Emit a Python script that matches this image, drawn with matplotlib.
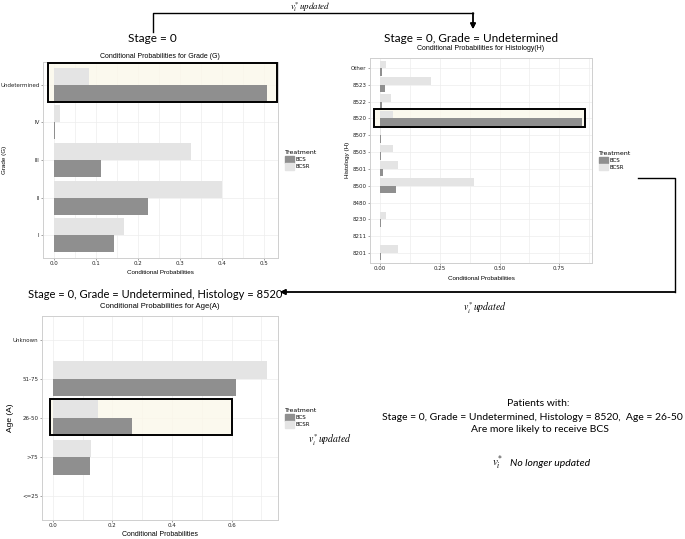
import numpy as np
import matplotlib.pyplot as plt
from matplotlib.lines import Line2D
from matplotlib.patches import Rectangle, Patch
from matplotlib.ticker import MultipleLocator, FormatStrFormatter

W, H = 685, 539

# Conditional probabilities
grade_cats = ["I", "II", "III", "IV", "Undetermined"]
grade_bcs = [0.144, 0.225, 0.113, 0.004, 0.508]
grade_bcsr = [0.167, 0.400, 0.327, 0.014, 0.083]

hist_cats = ["8201", "8211", "8230", "8480", "8500", "8501", "8503", "8507",
             "8520", "8522", "8523", "Other"]
hist_bcs = [0.003, 0.0, 0.003, 0.0, 0.067, 0.011, 0.003, 0.004, 0.845, 0.010, 0.021, 0.010]
hist_bcsr = [0.076, 0.0, 0.024, 0.0, 0.392, 0.076, 0.053, 0.002, 0.056, 0.044, 0.215, 0.024]

age_cats = ["<=25", ">75", "26-50", "51-75", "Unknown"]
age_bcs = [0.0, 0.125, 0.267, 0.614, 0.0]
age_bcsr = [0.0, 0.130, 0.152, 0.720, 0.0]

BCS_C = "#8f8f8f"
BCSR_C = "#e4e4e4"
HL_FILL = "#fbf8ea"
SANS = "Liberation Sans"
HEAD = "Lato"

fig = plt.figure(figsize=(W / 100, H / 100), dpi=100)


def fx(x):
    return x / W


def fy(y):
    return 1 - y / H


def box(x0, y0, x1, y1):
    return [fx(x0), fy(y1), (x1 - x0) / W, (y1 - y0) / H]


def panel(rect, cats, bcs, bcsr, step, fmt, hl_idx, hl_x, hl_y):
    ax = fig.add_axes(box(*rect))
    ax.use_sticky_edges = False  # ggplot-like 5% expansion on both sides
    y = np.arange(len(cats))
    ax.barh(y - 0.225, bcs, height=0.45, color=BCS_C, zorder=3)
    ax.barh(y + 0.225, bcsr, height=0.45, color=BCSR_C, zorder=3)
    ax.set_ylim(-0.6, len(cats) - 0.4)
    ax.set_yticks(y)
    ax.set_yticklabels(cats)
    ax.xaxis.set_major_locator(MultipleLocator(step))
    ax.xaxis.set_minor_locator(MultipleLocator(step / 2))
    ax.xaxis.set_major_formatter(FormatStrFormatter(fmt))
    ax.set_axisbelow(True)
    ax.grid(True, which="both", color="#ededed", lw=0.5)
    ax.tick_params(labelsize=4, length=1.5, width=0.5, pad=1, colors="#7f7f7f",
                   labelcolor="#222222")
    ax.tick_params(which="minor", length=0)
    for s in ax.spines.values():
        s.set_color("#cfcfcf")
        s.set_linewidth(0.7)

    # highlighted category box
    x0, x1 = hl_x
    lo, hi = hl_y
    ax.add_patch(Rectangle((x0, hl_idx - lo), x1 - x0, lo + hi, facecolor=HL_FILL,
                           edgecolor="none", alpha=0.8, zorder=2))
    ax.add_patch(Rectangle((x0, hl_idx - lo), x1 - x0, lo + hi, facecolor="none",
                           edgecolor="black", lw=1.4, zorder=4))
    ax.autoscale_view()

    handles = [Patch(color=BCS_C, label="BCS"), Patch(color=BCSR_C, label="BCSR")]
    ax.legend(handles=handles, title="Treatment", loc="center left",
              bbox_to_anchor=(1.0, 0.5), frameon=False, fontsize=4,
              title_fontsize=4.5, handlelength=1.6, handleheight=1.4,
              labelspacing=0.15, handletextpad=0.3, borderaxespad=0.8,
              alignment="left")
    return ax


# Grade panel
ax1 = panel((43, 62, 278, 258), grade_cats, grade_bcs, grade_bcsr, 0.1, "%.1f",
            4, (-0.014, 0.530), (0.45, 0.58))
ax1.set_xlim(-0.05 * max(grade_bcs), 1.05 * max(grade_bcs))
fig.text(fx(152), fy(38), "Stage = 0", fontsize=8.5, family=HEAD, ha="center", va="center")
fig.text(fx(160), fy(56), "Conditional Probabilities for Grade (G)", fontsize=5,
         family=SANS, ha="center", va="center")
fig.text(fx(160), fy(272), "Conditional Probabilities", fontsize=4.5, family=SANS,
         ha="center", va="center")
fig.text(fx(5), fy(160), "Grade (G)", fontsize=4.5, family=SANS, rotation=90,
         ha="center", va="center")

# Histology panel
ax2 = panel((370, 58, 592, 263), hist_cats, hist_bcs, hist_bcsr, 0.25, "%.2f",
            8, (-0.025, 0.858), (0.5, 0.58))
ax2.set_xlim(-0.05 * max(hist_bcs), 1.05 * max(hist_bcs))
fig.text(fx(471), fy(38), "Stage = 0, Grade = Undetermined", fontsize=8.5, family=HEAD,
         ha="center", va="center")
fig.text(fx(481), fy(49), "Conditional Probabilities for Histology(H)", fontsize=5,
         family=SANS, ha="center", va="center")
fig.text(fx(481), fy(278), "Conditional Probabilities", fontsize=4.5, family=SANS,
         ha="center", va="center")
fig.text(fx(347), fy(160), "Histology (H)", fontsize=4.5, family=SANS, rotation=90,
         ha="center", va="center")

# Age panel
ax3 = panel((42, 316, 278, 520), age_cats, age_bcs, age_bcsr, 0.2, "%.1f",
            2, (-0.010, 0.600), (0.43, 0.48))
ax3.set_xlim(-0.05 * max(age_bcsr), 1.05 * max(age_bcsr))
fig.text(fx(155), fy(295), "Stage = 0, Grade = Undetermined, Histology = 8520",
         fontsize=8, family=HEAD, ha="center", va="center")
fig.text(fx(160), fy(307), "Conditional Probabilities for Age(A)", fontsize=5.5,
         family=SANS, ha="center", va="center")
fig.text(fx(160), fy(534), "Conditional Probabilities", fontsize=5, family=SANS,
         ha="center", va="center")
fig.text(fx(10), fy(418), "Age (A)", fontsize=6, family=SANS, rotation=90,
         ha="center", va="center")


# connectors
def path(pts):
    xs = [fx(p[0]) for p in pts]
    ys = [fy(p[1]) for p in pts]
    fig.add_artist(Line2D(xs[:-1], ys[:-1], color="black", lw=1.0,
                          transform=fig.transFigure))
    fig.add_artist(plt.annotate("", xy=(xs[-1], ys[-1]), xytext=(xs[-2], ys[-2]),
                                xycoords=fig.transFigure, textcoords=fig.transFigure,
                                arrowprops=dict(arrowstyle="-|>", color="black", lw=1.0,
                                                mutation_scale=8, shrinkA=0, shrinkB=0)))


path([(153, 32), (153, 13), (473, 13), (473, 29)])
path([(638, 178), (675, 178), (675, 292), (280, 292)])

vtxt = r"$v_i^{*}$"
fig.text(fx(310), fy(7), vtxt + r"$\,updated$", fontsize=6.5, ha="center", va="center",
         math_fontfamily="stix")
fig.text(fx(485), fy(308), vtxt + r"$\,updated$", fontsize=7, ha="center", va="center",
         math_fontfamily="stix")
fig.text(fx(330), fy(440), vtxt + r"$\,updated$", fontsize=7, ha="center", va="center",
         math_fontfamily="stix")

fig.text(fx(538), fy(403), "Patients with:", fontsize=7.5, family=HEAD,
         ha="center", va="center")
fig.text(fx(532), fy(417), "Stage = 0, Grade = Undetermined, Histology = 8520,  Age = 26-50",
         fontsize=7.5, family=HEAD, ha="center", va="center")
fig.text(fx(540), fy(430), "Are more likely to receive BCS", fontsize=7.5, family=HEAD,
         ha="center", va="center")
fig.text(fx(497), fy(463), vtxt, fontsize=8, ha="center", va="center", math_fontfamily="stix")
fig.text(fx(510), fy(463), "No longer updated", fontsize=7.5, family=HEAD, style="italic",
         ha="left", va="center")

fig.savefig("out.png", dpi=100)
